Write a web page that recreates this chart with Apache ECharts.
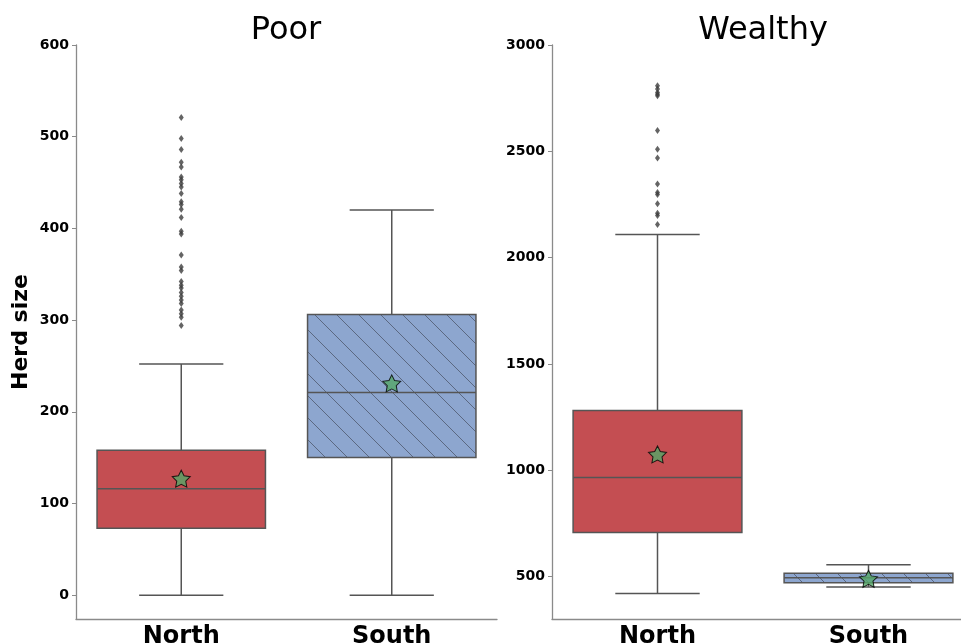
<!DOCTYPE html>
<html>
<head>
<meta charset="utf-8">
<script src="https://cdn.jsdelivr.net/npm/echarts@6/dist/echarts.min.js"></script>
<style>
  html, body { margin: 0; padding: 0; background: #fff; }
  #chart { width: 961px; height: 644px; }
</style>
</head>
<body>
<div id="chart"></div>
<script>
// Herd size by region, split into poor and wealthy households
const categories = ['North', 'South'];

// box statistics per category: [lower whisker, Q1, median, Q3, upper whisker]
const poorStats = [
  [0, 73, 116, 158, 252],
  [0, 150, 221, 306, 420]
];
const poorMeans = [127, 231];
const poorNorthOutliers = [521, 498, 486, 472, 467, 456, 453, 449, 445, 438, 429, 426, 421, 412,
  397, 394, 371, 358, 354, 342, 338, 335, 330, 326, 322, 318, 311, 307, 303, 294];

const wealthyStats = [
  [420, 707, 966, 1281, 2109],
  [451, 470, 494, 515, 555]
];
const wealthyMeans = [1074, 489];
const wealthyNorthOutliers = [2808, 2793, 2777, 2768, 2761, 2598, 2510, 2469, 2346, 2306, 2297,
  2253, 2208, 2198, 2156];

const poorTicks = [0, 100, 200, 300, 400, 500, 600];
const wealthyTicks = [500, 1000, 1500, 2000, 2500, 3000];

const FONT = 'DejaVu Sans';
const SPINE = '#8a8a8a';
const EDGE = '#555555';
const RED = '#C44E52';
const BLUE = '#8DA6CF';

// diagonal "\" hatch over the blue fill
function hatchPattern() {
  const s = 22;
  const c = document.createElement('canvas');
  c.width = s; c.height = s;
  const g = c.getContext('2d');
  g.fillStyle = BLUE;
  g.fillRect(0, 0, s, s);
  g.strokeStyle = 'rgba(70,78,95,0.7)';
  g.lineWidth = 1;
  for (const off of [-s, 0, s]) {
    g.beginPath();
    g.moveTo(off, 0);
    g.lineTo(off + s, s);
    g.stroke();
  }
  return { image: c, repeat: 'repeat' };
}
const BLUE_HATCH = hatchPattern();
const fills = [RED, BLUE_HATCH];

function boxRender(params, api) {
  const idx = api.value(0);
  const low = api.value(1), q1 = api.value(2), med = api.value(3), q3 = api.value(4), high = api.value(5);
  const band = api.size([1, 0])[0];
  const bw = band * 0.8;
  const cx = api.coord([idx, med])[0];
  const yLow = api.coord([idx, low])[1];
  const yQ1 = api.coord([idx, q1])[1];
  const yMed = api.coord([idx, med])[1];
  const yQ3 = api.coord([idx, q3])[1];
  const yHigh = api.coord([idx, high])[1];
  const line = { stroke: EDGE, lineWidth: 1.5 };
  const capHalf = bw / 4;
  return {
    type: 'group',
    children: [
      { type: 'line', shape: { x1: cx, y1: yQ1, x2: cx, y2: yLow }, style: line },
      { type: 'line', shape: { x1: cx, y1: yQ3, x2: cx, y2: yHigh }, style: line },
      { type: 'line', shape: { x1: cx - capHalf, y1: yLow, x2: cx + capHalf, y2: yLow }, style: line },
      { type: 'line', shape: { x1: cx - capHalf, y1: yHigh, x2: cx + capHalf, y2: yHigh }, style: line },
      { type: 'rect', shape: { x: cx - bw / 2, y: yQ3, width: bw, height: yQ1 - yQ3 },
        style: { fill: fills[idx], stroke: EDGE, lineWidth: 1.5 } },
      { type: 'line', shape: { x1: cx - bw / 2, y1: yMed, x2: cx + bw / 2, y2: yMed }, style: line }
    ]
  };
}

const STAR = 'path://M0,-10 L2.94,-4.05 9.51,-3.09 4.76,1.55 5.88,8.09 0,5 -5.88,8.09 -4.76,1.55 -9.51,-3.09 -2.94,-4.05 Z';

function xAxisFor(gridIndex) {
  return {
    type: 'category', gridIndex, data: categories,
    axisLine: { onZero: false, lineStyle: { color: SPINE, width: 1.3 } },
    axisTick: { alignWithLabel: true, length: 4, lineStyle: { color: SPINE } },
    axisLabel: { color: '#000', fontFamily: FONT, fontWeight: 'bold', fontSize: 24, margin: 6 },
    splitLine: { show: false }
  };
}
function yAxisFor(gridIndex, min, max, ticks, name) {
  return {
    type: 'value', gridIndex, min, max,
    name: name || '', nameLocation: 'middle', nameGap: 44,
    nameTextStyle: { color: '#000', fontFamily: FONT, fontWeight: 'bold', fontSize: 22 },
    axisLine: { show: true, onZero: false, lineStyle: { color: SPINE, width: 1.3 } },
    axisTick: { show: true, length: 4, customValues: ticks, lineStyle: { color: SPINE } },
    axisLabel: { color: '#000', fontFamily: FONT, fontWeight: 'bold', fontSize: 14, margin: 7,
      customValues: ticks, formatter: (v) => String(v) },
    splitLine: { show: false }
  };
}

const boxData = (stats) => stats.map((s, i) => [i].concat(s));
const outlierData = (vals) => vals.map(v => ['North', v]);
const meanData = (vals) => vals.map((v, i) => [categories[i], v]);

const option = {
  animation: false,
  backgroundColor: '#fff',
  title: [
    { text: 'Poor', left: 281, top: 10, textAlign: 'center',
      textStyle: { fontFamily: FONT, fontWeight: 'normal', fontSize: 32, color: '#000' } },
    { text: 'Wealthy', left: 758, top: 10, textAlign: 'center',
      textStyle: { fontFamily: FONT, fontWeight: 'normal', fontSize: 32, color: '#000' } }
  ],
  grid: [
    { left: 76, width: 421, top: 45, bottom: 25, outerBoundsMode: 'none', containLabel: false },
    { left: 552, width: 422, top: 45, bottom: 25, outerBoundsMode: 'none', containLabel: false }
  ],
  xAxis: [xAxisFor(0), xAxisFor(1)],
  yAxis: [
    yAxisFor(0, -26, 600, poorTicks, 'Herd size'),
    yAxisFor(1, 300, 3000, wealthyTicks)
  ],
  series: [
    { type: 'custom', xAxisIndex: 0, yAxisIndex: 0, renderItem: boxRender, data: boxData(poorStats), z: 2 },
    { type: 'custom', xAxisIndex: 1, yAxisIndex: 1, renderItem: boxRender, data: boxData(wealthyStats), z: 2 },
    { type: 'scatter', xAxisIndex: 0, yAxisIndex: 0, data: outlierData(poorNorthOutliers),
      symbol: 'diamond', symbolSize: [5, 7], itemStyle: { color: '#3d3d3d' }, z: 3 },
    { type: 'scatter', xAxisIndex: 1, yAxisIndex: 1, data: outlierData(wealthyNorthOutliers),
      symbol: 'diamond', symbolSize: [5, 7], itemStyle: { color: '#3d3d3d' }, z: 3 },
    { type: 'scatter', xAxisIndex: 0, yAxisIndex: 0, data: meanData(poorMeans),
      symbol: STAR, symbolSize: [18, 17], itemStyle: { color: '#55A868', borderColor: '#000', borderWidth: 1 }, z: 4 },
    { type: 'scatter', xAxisIndex: 1, yAxisIndex: 1, data: meanData(wealthyMeans),
      symbol: STAR, symbolSize: [18, 17], itemStyle: { color: '#55A868', borderColor: '#000', borderWidth: 1 }, z: 4 }
  ]
};

const chart = echarts.init(document.getElementById('chart'), null, { renderer: 'canvas' });
chart.setOption(option);
</script>
</body>
</html>
